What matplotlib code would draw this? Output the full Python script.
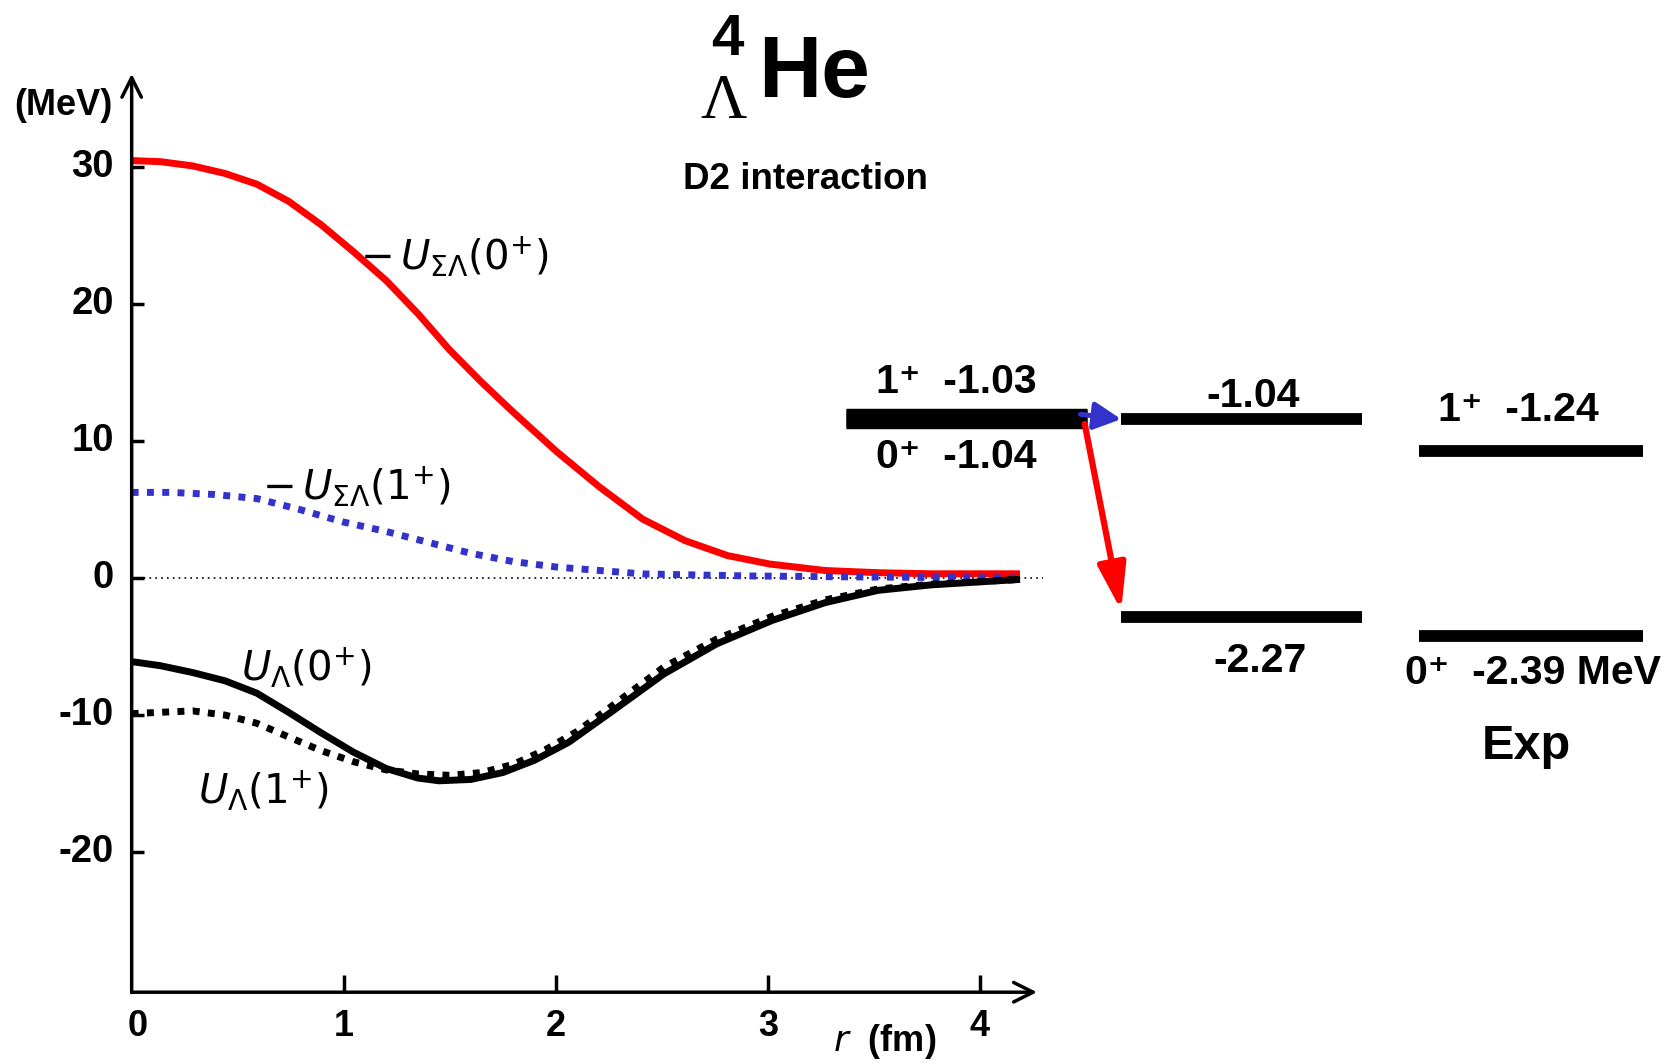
import numpy as np
import matplotlib
matplotlib.use("Agg")
import matplotlib.pyplot as plt

# r in fm, potentials in MeV
r = [0.0, 0.136, 0.288, 0.44, 0.59, 0.74, 0.894, 1.045, 1.2, 1.35, 1.5, 1.65, 1.8, 2.005,
     2.207, 2.41, 2.61, 2.81, 3.01, 3.27, 3.52, 3.77, 4.19]
u_sl_0 = [30.47, 30.39, 30.08, 29.53, 28.75, 27.5, 25.78, 23.83, 21.72, 19.3, 16.64, 14.3, 12.1, 9.22,
          6.64, 4.3, 2.73, 1.64, 1.02, 0.55, 0.39, 0.31, 0.31]

r_b = [0.0, 0.187, 0.389, 0.59, 0.793, 0.995, 1.2, 1.4, 1.6, 1.8, 2.005, 2.207, 2.41, 2.914, 3.42, 4.18]
u_sl_1 = [6.25, 6.25, 6.1, 5.8, 5.0, 4.1, 3.4, 2.6, 1.8, 1.2, 0.8, 0.55, 0.3, 0.15, 0.08, 0.0]

r_k = [0.0, 0.136, 0.288, 0.44, 0.59, 0.74, 0.894, 1.045, 1.2, 1.35, 1.45, 1.6, 1.75, 1.9, 2.06,
       2.26, 2.51, 2.76, 3.02, 3.27, 3.52, 3.77, 4.19]
u_l_0 = [-6.1, -6.4, -6.9, -7.5, -8.4, -9.8, -11.3, -12.7, -13.9, -14.6, -14.8, -14.7, -14.2, -13.3, -12.0,
         -9.8, -7.0, -4.8, -3.1, -1.8, -0.9, -0.5, -0.1]
r_d = [0.0, 0.136, 0.288, 0.44, 0.59, 0.74, 0.894, 1.045, 1.2, 1.35, 1.5, 1.65, 1.8, 1.955, 2.1,
       2.26, 2.51, 2.76, 3.02, 3.27, 3.52, 3.77, 4.19]
u_l_1 = [-9.9, -9.8, -9.7, -10.0, -10.6, -11.6, -12.6, -13.4, -14.0, -14.3, -14.4, -14.2, -13.6, -12.5, -11.2,
         -9.4, -6.5, -4.45, -2.8, -1.6, -0.8, -0.45, -0.1]

# level energies (MeV)
lev_d2 = [-1.03, -1.04]
lev_d2_labels = ["1⁺  -1.03", "0⁺  -1.04"]
lev_calc = [-1.04, -2.27]
lev_calc_labels = ["-1.04", "-2.27"]
lev_exp = [-1.24, -2.39]
lev_exp_labels = ["1⁺  -1.24", "0⁺  -2.39 MeV"]

fam = ["Liberation Sans", "DejaVu Sans"]

fig = plt.figure(figsize=(16.79, 10.64), dpi=100)
ax = fig.add_axes([0, 0, 1, 1])
ax.set_xlim(-0.621, 7.298)
ax.set_ylim(-35.47, 42.19)
ax.axis("off")

# level scheme axes (energy scale)
ax2 = fig.add_axes([0, 0, 1, 1], sharex=ax)
ax2.set_ylim(-5.051, 1.567)
ax2.axis("off")
ax2.patch.set_alpha(0)

# axes lines
ax.annotate("", xy=(0, 36.8), xytext=(0, -30.25),
            arrowprops=dict(arrowstyle="->", lw=2.5, color="black", mutation_scale=35, shrinkA=0, shrinkB=0))
ax.annotate("", xy=(4.27, -30.23), xytext=(0, -30.23),
            arrowprops=dict(arrowstyle="->", lw=2.5, color="black", mutation_scale=35, shrinkA=0, shrinkB=0))
yt = [30, 20, 10, 0, -10, -20]
ax.hlines(yt, 0, 0.06, color="black", lw=2.5)
for v in yt:
    ax.text(-0.085, v, str(v), ha="right", va="center", fontsize=27.5, fontweight="bold", family=fam)
xt = [1, 2, 3, 4]
ax.vlines(xt, -30.3, -29.0, color="black", lw=2.5)
for v in [0] + xt:
    ax.text(v + (0.03 if v == 0 else 0), -32.7, str(v), ha="center", va="center", fontsize=26,
            fontweight="bold", family=["Liberation Sans Narrow"] + fam)
ax.text(-0.32, 34.5, "(MeV)", ha="center", va="center", fontsize=26, fontweight="bold", family=fam)
ax.text(3.55, -33.8, r"$r$  (fm)", ha="center", va="center", fontsize=26, fontweight="bold",
        family=fam, math_fontfamily="dejavusans")

ax.hlines(0, 0, 4.3, color="black", lw=1.2, linestyles=(0, (1, 2.5)))

# curves
ax.plot(r, u_sl_0, color="#ff0000", lw=5, solid_capstyle="butt")
ax.plot(r_b, u_sl_1, color="#3333cc", lw=5, dashes=(1.0, 1.2), dash_capstyle="butt")
ax.plot(r_k, u_l_0, color="black", lw=5, solid_capstyle="butt")
ax.plot(r_d, u_l_1, color="black", lw=5, dashes=(1.0, 1.2), dash_capstyle="butt")

lab = dict(fontsize=29, ha="left", va="center", math_fontfamily="dejavusans")
ax.text(1.075, 23.4, r"$-\,U_{\Sigma\Lambda}(0^{+})$", **lab)
ax.text(0.616, 6.6, r"$-\,U_{\Sigma\Lambda}(1^{+})$", **lab)
ax.text(0.515, -6.6, r"$U_{\Lambda}(0^{+})$", **lab)
ax.text(0.313, -15.6, r"$U_{\Lambda}(1^{+})$", **lab)

# titles
ax.text(2.955, 35.1, "He", ha="left", va="baseline", fontsize=63, fontweight="bold", family=fam)
ax.text(2.81, 38.2, "4", ha="center", va="baseline", fontsize=42, fontweight="bold", family=fam)
ax.text(2.79, 33.6, "Λ", ha="center", va="baseline", fontsize=46, family=["Liberation Serif", "DejaVu Serif"])
ax.text(3.177, 29.1, "D2 interaction", ha="center", va="center", fontsize=26.5, fontweight="bold", family=fam)

# levels
x_d2 = (3.37, 4.505)
x_calc = (4.667, 5.803)
x_exp = (6.07, 7.13)
ax2.hlines(lev_d2, *x_d2, color="black", lw=14)
ax2.hlines(lev_calc, *x_calc, color="black", lw=8.5)
ax2.hlines(lev_exp, *x_exp, color="black", lw=8.5)

tl = dict(ha="center", va="center", fontsize=29.5, fontweight="bold", family=fam)
ax.text(3.889, 14.3, lev_d2_labels[0], **tl)
ax.text(3.889, 8.83, lev_d2_labels[1], **tl)
ax.text(5.288, 13.28, lev_calc_labels[0], **tl)
ax.text(5.323, -6.09, lev_calc_labels[1], **tl)
ax.text(6.54, 12.27, lev_exp_labels[0], **tl)
ax.text(6.61, -6.9, lev_exp_labels[1], **tl)
ax.text(6.576, -12.27, "Exp", ha="center", va="center", fontsize=35, fontweight="bold", family=fam)

# transition arrows
ax2.annotate("", xy=(x_calc[0], lev_calc[0]), xytext=(x_d2[1] - 0.03, lev_d2[0] + 0.02),
             arrowprops=dict(arrowstyle="-|>,head_length=0.55,head_width=0.28", lw=3.6, color="#3333cc",
                             mutation_scale=30, shrinkA=0, shrinkB=0))
ax2.annotate("", xy=(x_calc[0], lev_calc[1] + 0.04), xytext=(x_d2[1] - 0.01, lev_d2[1] - 0.03),
             arrowprops=dict(arrowstyle="-|>,head_length=0.62,head_width=0.19", lw=4.5, color="#ff0000",
                             mutation_scale=45, shrinkA=0, shrinkB=0))

fig.savefig("out.png", dpi=100)
